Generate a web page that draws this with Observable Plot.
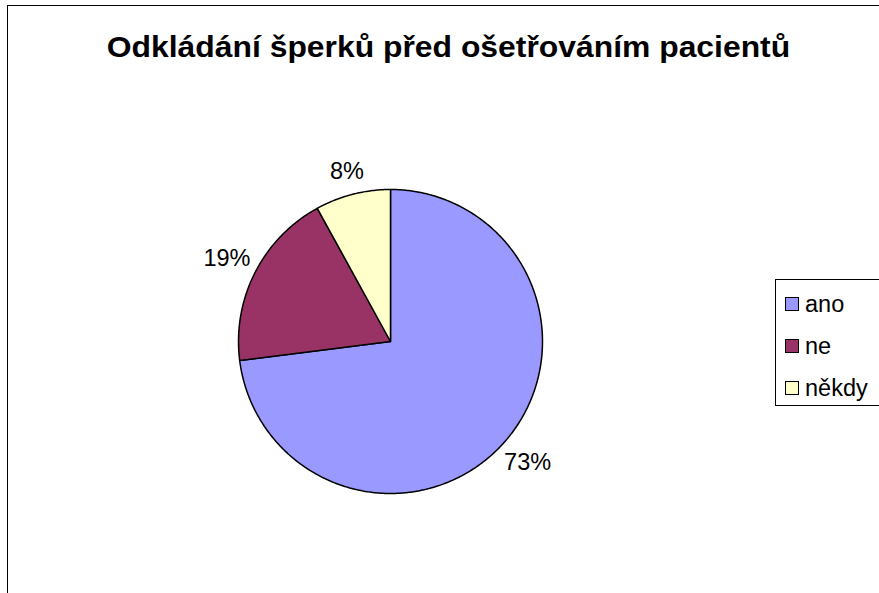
<!DOCTYPE html>
<html>
<head>
<meta charset="utf-8">
<script src="https://cdn.jsdelivr.net/npm/d3@7"></script>
<script src="https://cdn.jsdelivr.net/npm/@observablehq/plot@0.6"></script>
<style>
  html, body { margin: 0; padding: 0; background: #fff; }
  #wrap { position: relative; width: 879px; height: 593px; overflow: hidden; font-family: "Liberation Sans", Arial, sans-serif; }
  #frame { position: absolute; left: 7px; top: 5px; width: 900px; height: 700px; border: 1.5px solid #000; box-sizing: border-box; }
  #title { position: absolute; left: 0; width: 897px; top: 31.6px; text-align: center; font-weight: bold; font-size: 30px; line-height: 1; color: #000; white-space: nowrap; transform: scaleX(1.062); transform-origin: 448.5px 0; }
  #legend { position: absolute; left: 775px; top: 279px; width: 140px; height: 127px; border: 1px solid #000; box-sizing: border-box; background: #fff; }
  .item { position: absolute; left: 9px; height: 24px; font-size: 23.5px; line-height: 24px; color: #000; white-space: nowrap; }
  .sw { display: inline-block; width: 12px; height: 12px; border: 1.5px solid #000; vertical-align: middle; margin-right: 6px; position: relative; top: -2px; }
  #chart { position: absolute; left: 0; top: 0; }
</style>
</head>
<body>
<div id="wrap">
  <div id="frame"></div>
  <div id="chart"></div>
  <div id="title"></div>
  <div id="legend"></div>
</div>
<script>
const titleText = "Odkládání šperků před ošetřováním pacientů";
const categories = ["ano", "ne", "někdy"];
const values = [73, 19, 8];
const colors = ["#9999FF", "#993366", "#FFFFCC"];

document.getElementById("title").textContent = titleText;

// slices via d3.pie (start at 12 o'clock, clockwise, keep order)
const pie = d3.pie().sort(null).value(d => d.value);
const arcs = pie(categories.map((c, i) => ({category: c, value: values[i]})));

const slicePts = [];
arcs.forEach(a => {
  const n = Math.max(2, Math.ceil((a.endAngle - a.startAngle) / 0.01));
  slicePts.push({category: a.data.category, x: 0, y: 0});
  for (let k = 0; k <= n; k++) {
    const t = a.startAngle + (a.endAngle - a.startAngle) * k / n;
    slicePts.push({category: a.data.category, x: Math.sin(t), y: Math.cos(t)});
  }
  slicePts.push({category: a.data.category, x: 0, y: 0});
});

// outside labels: text box pushed out along the mid-angle so it clears the rim
const R = 152, gap = 12, fs = 23.5;
const labels = arcs.map(a => {
  const m = (a.startAngle + a.endAngle) / 2;
  const ux = Math.sin(m), uy = Math.cos(m);
  const text = a.data.value + "%";
  const hw = text.length * 0.5 * fs * 0.5, hh = 0.36 * fs;
  const d = (R + gap + Math.abs(ux) * hw + Math.abs(uy) * hh) / R;
  return {text, x: d * ux, y: d * uy};
});

const chart = Plot.plot({
  width: 879,
  height: 593,
  marginLeft: 238,
  marginRight: 337,
  marginTop: 189,
  marginBottom: 100,
  x: {domain: [-1, 1], axis: null},
  y: {domain: [-1, 1], axis: null},
  color: {domain: categories, range: colors},
  style: {background: "transparent", fontFamily: "Liberation Sans, Arial, sans-serif"},
  marks: [
    Plot.line(slicePts, {x: "x", y: "y", z: "category", fill: "category", stroke: "#000", strokeWidth: 1.5, strokeLinejoin: "round", curve: "linear"}),
    Plot.text(labels, {x: "x", y: "y", text: "text", fontSize: fs, fill: "#000", textAnchor: "middle", lineAnchor: "middle"})
  ]
});
document.getElementById("chart").appendChild(chart);

const legend = document.getElementById("legend");
categories.forEach((c, i) => {
  const d = document.createElement("div");
  d.className = "item";
  d.style.top = (12 + i * 42) + "px";
  const s = document.createElement("span");
  s.className = "sw";
  s.style.background = colors[i];
  d.appendChild(s);
  d.appendChild(document.createTextNode(c));
  legend.appendChild(d);
});
</script>
</body>
</html>
